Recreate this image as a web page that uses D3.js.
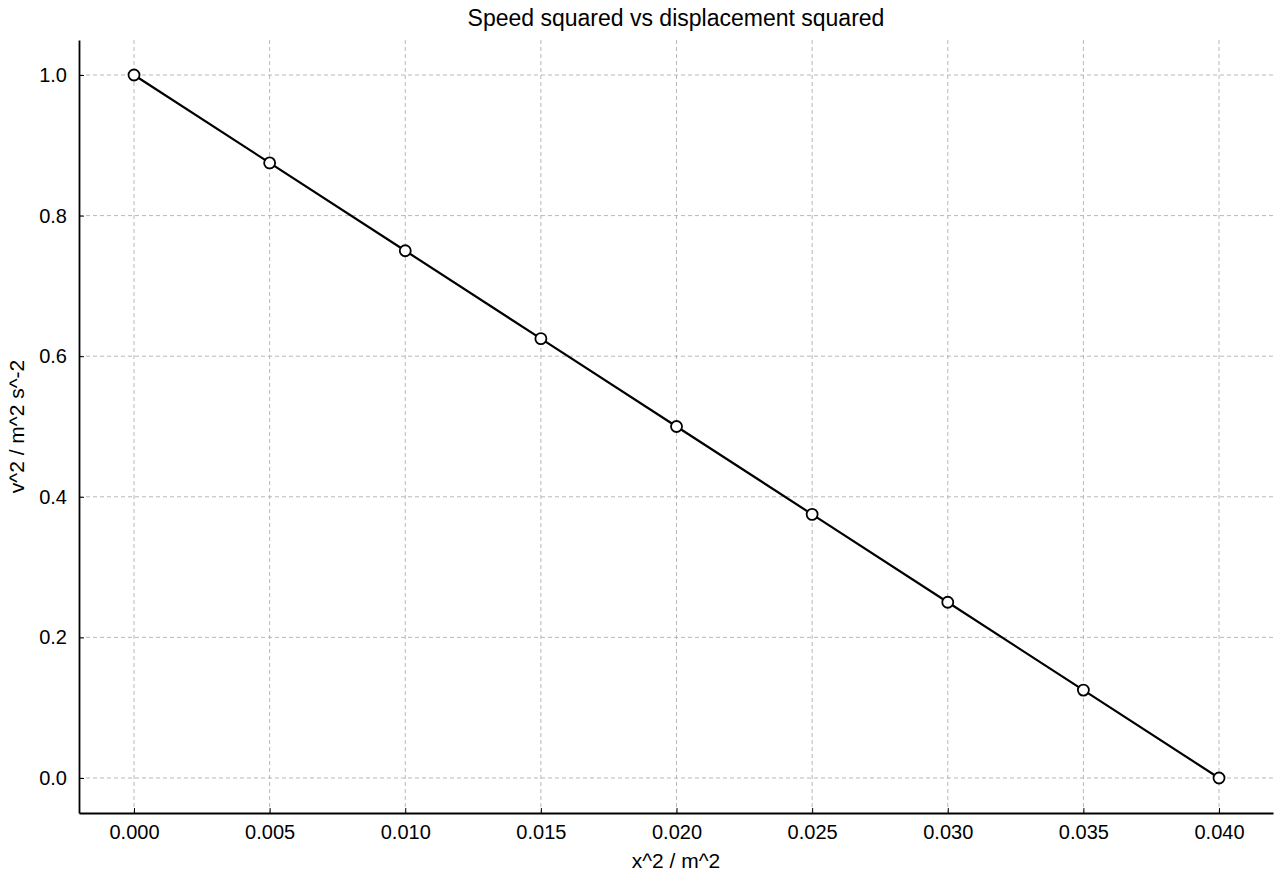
<!DOCTYPE html>
<html><head><meta charset="utf-8">
<script src="https://cdn.jsdelivr.net/npm/d3@7"></script>
<style>body{margin:0;background:#fff}text{font-family:"Liberation Sans",Arial,sans-serif}</style>
</head><body><svg id="chart" width="1280" height="880"></svg>
<script>
var xValues = [0.000, 0.005, 0.010, 0.015, 0.020, 0.025, 0.030, 0.035, 0.040];
var yValues = [1.000, 0.875, 0.750, 0.625, 0.500, 0.375, 0.250, 0.125, 0.000];
var xTicks = [0, 0.005, 0.01, 0.015, 0.02, 0.025, 0.03, 0.035, 0.04];
var yTicks = [0, 0.2, 0.4, 0.6, 0.8, 1.0];

var m = {left: 79, right: 1273, top: 40, bottom: 813};
var svg = d3.select('#chart');
var x = d3.scaleLinear().domain([-0.002028, 0.04199]).range([m.left, m.right]);
var y = d3.scaleLinear().domain([-0.0498, 1.0498]).range([m.bottom, m.top]);

var grid = svg.append('g');
xTicks.forEach(function(t) {
	grid.append('line').attr('x1', x(t)).attr('x2', x(t)).attr('y1', m.top).attr('y2', m.bottom)
		.attr('stroke', '#b0b0b0').attr('stroke-dasharray', '4,3').attr('stroke-width', 0.9);
});
yTicks.forEach(function(t) {
	grid.append('line').attr('y1', y(t)).attr('y2', y(t)).attr('x1', m.left).attr('x2', m.right)
		.attr('stroke', '#b0b0b0').attr('stroke-dasharray', '4,3').attr('stroke-width', 0.9);
});

var xAxis = svg.append('g').attr('transform', 'translate(0,' + m.bottom + ')')
	.call(d3.axisBottom(x).tickValues(xTicks).tickFormat(d3.format('.3f')).tickSizeInner(-5).tickSizeOuter(0).tickPadding(12));
var yAxis = svg.append('g').attr('transform', 'translate(' + m.left + ',0)')
	.call(d3.axisLeft(y).tickValues(yTicks).tickFormat(d3.format('.1f')).tickSizeInner(-5).tickSizeOuter(0).tickPadding(12));
[xAxis, yAxis].forEach(function(a) {
	a.selectAll('text').style('font-size', '20px').attr('fill', '#000');
	a.select('.domain').attr('stroke-width', 1.8);
});

var pts = xValues.map(function(v, i) { return [v, yValues[i]]; });
svg.append('path').datum(pts)
	.attr('d', d3.line().x(function(d) { return x(d[0]); }).y(function(d) { return y(d[1]); }))
	.attr('fill', 'none').attr('stroke', '#000').attr('stroke-width', 2.2);
svg.selectAll('circle.pt').data(pts).enter().append('circle')
	.attr('cx', function(d) { return x(d[0]); }).attr('cy', function(d) { return y(d[1]); })
	.attr('r', 5.5).attr('fill', '#fff').attr('stroke', '#000').attr('stroke-width', 1.8);

svg.append('text').attr('x', (m.left + m.right) / 2).attr('y', 26).attr('text-anchor', 'middle')
	.style('font-size', '23px').text('Speed squared vs displacement squared');
svg.append('text').attr('x', (m.left + m.right) / 2).attr('y', 868).attr('text-anchor', 'middle')
	.style('font-size', '21px').text('x^2 / m^2');
svg.append('text').attr('transform', 'translate(24,' + ((m.top + m.bottom) / 2) + ') rotate(-90)')
	.attr('text-anchor', 'middle').style('font-size', '21px').text('v^2 / m^2 s^-2');
</script></body></html>
